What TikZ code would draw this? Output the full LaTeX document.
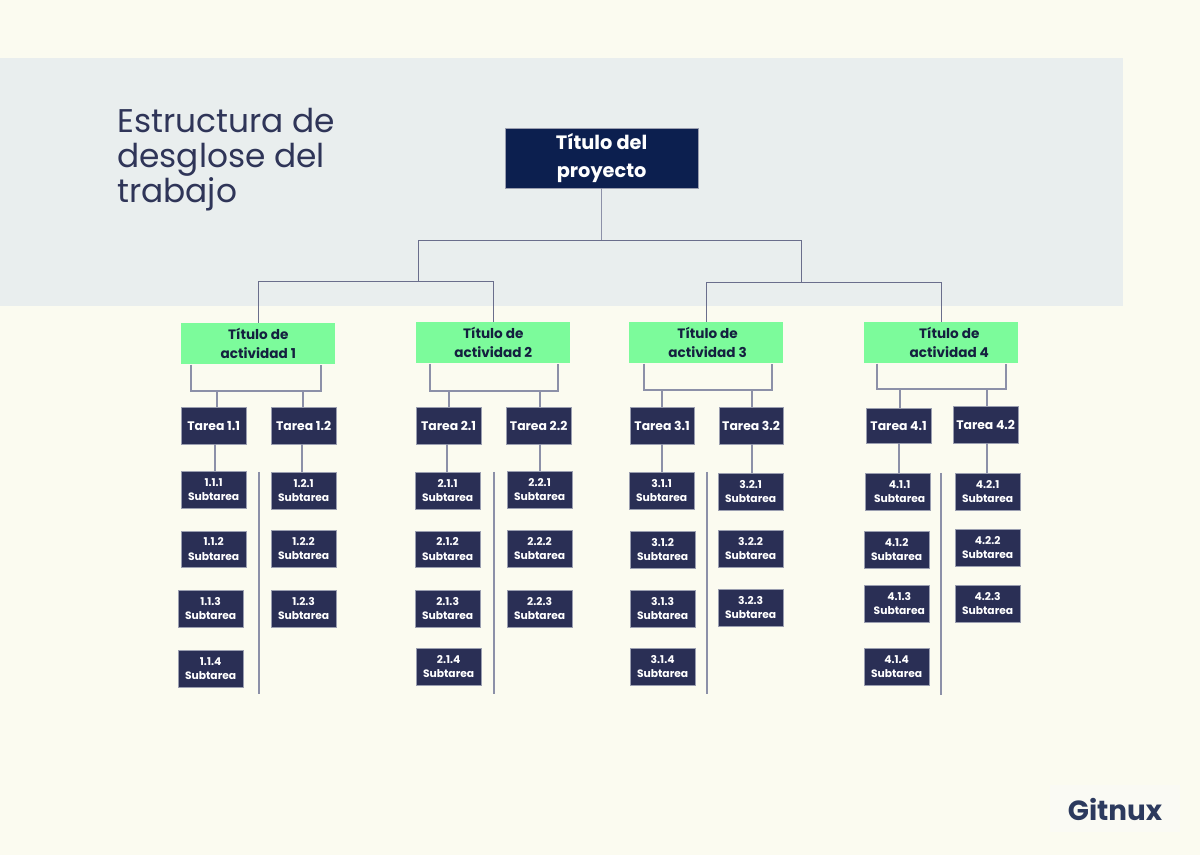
\documentclass[tikz,border=0pt]{standalone}
\usepackage{fontspec}
\setmainfont{Poppins}
\definecolor{bgc}{HTML}{FBFBF0}
\definecolor{bandc}{HTML}{E9EEEE}
\definecolor{rootc}{HTML}{0C1F4F}
\definecolor{actc}{HTML}{7CFB9B}
\definecolor{taskc}{HTML}{2A2F55}
\definecolor{linec}{HTML}{6A6E8C}
\definecolor{stemc}{HTML}{8C90A8}
\definecolor{edgec}{HTML}{9A9EB0}
\definecolor{titlec}{HTML}{2F3558}
\definecolor{inkc}{HTML}{14203F}
\definecolor{logoc}{HTML}{2C3A5E}
\definecolor{logobg}{HTML}{FAFAF4}
\tikzset{
  x=0.75pt,y=-0.75pt,
  boxbase/.style={anchor=north west,inner sep=0pt,align=center},
  rootbox/.style={boxbase,fill=rootc,draw=edgec,line width=0.2pt,text=white,font=\bfseries\fontsize{14.5}{21}\selectfont},
  actbox/.style={boxbase,fill=actc,text=inkc,font=\bfseries\fontsize{10.2}{14.4}\selectfont},
  taskbox/.style={boxbase,fill=taskc,draw=edgec,line width=0.2pt,text=white,font=\bfseries\fontsize{9.3}{12}\selectfont},
  subbox/.style={boxbase,fill=taskc,draw=edgec,line width=0.2pt,text=white,font=\bfseries\fontsize{8.05}{11}\selectfont},
  conn/.style={draw=linec,line width=0.65pt},
  stem/.style={draw=stemc,line width=1.05pt},
}
\newcommand{\bx}[7]{\node[#1,minimum width={(#4-#2)*0.75pt},minimum height={(#5-#3)*0.75pt}] (#6) at (#2,#3) {#7};}
\newcommand{\st}[6]{\bx{subbox}{#1}{#2}{#3}{#4}{#5}{#6\\Subtarea}}
\newcommand{\sts}[7]{\bx{subbox}{#1}{#2}{#3}{#4}{#5}{\hspace*{#7}#6\\\hspace*{#7}Subtarea}}
\begin{document}
\begin{tikzpicture}
\useasboundingbox (0,0) rectangle (1200,855);
\fill[bgc] (0,0) rectangle (1200,855);
\fill[bandc] (0,58) rectangle (1123,306);
\fill[logobg] (1050,785) rectangle (1180,832);
\node[anchor=north west,inner sep=0pt,align=left,text=titlec,font=\fontsize{24.6}{26.6}\selectfont] (title) at (117,107.5) {Estructura de\\desglose del\\trabajo};
% boxes
\bx{rootbox}{505}{128}{698}{188}{root}{Título del\\proyecto}
\bx{actbox}{181}{323}{335}{364}{a1}{Título de\\actividad 1}
\bx{actbox}{416}{322}{570}{363}{a2}{Título de\\actividad 2}
\bx{actbox}{629}{322}{783}{363}{a3}{\hspace*{2pt}Título de\\\hspace*{2pt}actividad 3}
\bx{actbox}{864}{322}{1018}{363}{a4}{\hspace*{12pt}Título de\\\hspace*{12pt}actividad 4}
\bx{taskbox}{181}{407}{246}{444}{t11}{Tarea 1.1}
\bx{taskbox}{271}{407}{336}{444}{t12}{Tarea 1.2}
\bx{taskbox}{416}{407}{481}{444}{t21}{Tarea 2.1}
\bx{taskbox}{506}{407}{571}{444}{t22}{Tarea 2.2}
\bx{taskbox}{630}{407}{694}{444}{t31}{Tarea 3.1}
\bx{taskbox}{719}{407}{783}{444}{t32}{Tarea 3.2}
\bx{taskbox}{866}{408}{931}{443}{t41}{Tarea 4.1}
\bx{taskbox}{953}{406}{1018}{443}{t42}{Tarea 4.2}
\st{181}{471}{246}{508}{s111}{1.1.1}
\st{181}{531}{246}{567}{s112}{1.1.2}
\st{178}{590}{243}{627}{s113}{1.1.3}
\st{178}{650}{243}{687}{s114}{1.1.4}
\st{271}{472}{336}{509}{s121}{1.2.1}
\st{271}{530}{336}{567}{s122}{1.2.2}
\st{271}{590}{336}{627}{s123}{1.2.3}
\st{415}{472}{480}{509}{s211}{2.1.1}
\st{415}{531}{480}{567}{s212}{2.1.2}
\st{415}{590}{480}{627}{s213}{2.1.3}
\st{416}{648}{481}{685}{s214}{2.1.4}
\st{507}{471}{572}{508}{s221}{2.2.1}
\st{507}{530}{572}{567}{s222}{2.2.2}
\st{507}{590}{572}{627}{s223}{2.2.3}
\st{629}{472}{694}{509}{s311}{3.1.1}
\st{630}{531}{695}{568}{s312}{3.1.2}
\st{630}{590}{695}{627}{s313}{3.1.3}
\st{630}{648}{695}{685}{s314}{3.1.4}
\st{718}{473}{783}{510}{s321}{3.2.1}
\st{718}{530}{783}{567}{s322}{3.2.2}
\st{718}{589}{783}{626}{s323}{3.2.3}
\sts{865}{473}{930}{510}{s411}{4.1.1}{3pt}
\st{864}{531}{929}{568}{s412}{4.1.2}
\sts{864}{585}{929}{622}{s413}{4.1.3}{4pt}
\st{864}{648}{929}{685}{s414}{4.1.4}
\st{955}{473}{1020}{510}{s421}{4.2.1}
\st{955}{529}{1020}{566}{s422}{4.2.2}
\st{955}{585}{1020}{622}{s423}{4.2.3}
% top tree
\coordinate (busL) at (418,240);
\coordinate (busR) at (801,240);
\coordinate (busM) at (602,240);
\draw[stem] (root.south) -- (root.south |- busM);
\draw[conn] (busL) -- (busR);
\draw[conn] (a1.north -| 258,0) |- (418,281) -- (busL);
\draw[conn] (a2.north -| 493,0) |- (418,281);
\draw[conn] (a3.north -| 706,0) |- (801,282) -- (busR);
\draw[conn] (a4.north -| 941,0) |- (801,282);
% activity brackets
\draw[stem] (a1.south -| 191,0) |- (321,391) -- (a1.south -| 321,0);
\draw[stem] (a2.south -| 430,0) |- (558,391) -- (a2.south -| 558,0);
\draw[stem] (a3.south -| 644,0) |- (772,390) -- (a3.south -| 772,0);
\draw[stem] (a4.south -| 877,0) |- (1006,389) -- (a4.south -| 1006,0);
\draw[stem] (t11.north -| 217,0) -- (217,391);
\draw[stem] (t12.north -| 303,0) -- (303,391);
\draw[stem] (t21.north -| 449,0) -- (449,391);
\draw[stem] (t22.north -| 540,0) -- (540,391);
\draw[stem] (t31.north -| 662,0) -- (662,390);
\draw[stem] (t32.north -| 752,0) -- (752,390);
\draw[stem] (t41.north -| 900,0) -- (900,389);
\draw[stem] (t42.north -| 987,0) -- (987,389);
% task to first subtask
\draw[stem] (t11.south -| 215,0) -- (s111.north -| 215,0);
\draw[stem] (t12.south -| 302,0) -- (s121.north -| 302,0);
\draw[stem] (t21.south -| 447,0) -- (s211.north -| 447,0);
\draw[stem] (t22.south -| 540,0) -- (s221.north -| 540,0);
\draw[stem] (t31.south -| 662,0) -- (s311.north -| 662,0);
\draw[stem] (t32.south -| 752,0) -- (s321.north -| 752,0);
\draw[stem] (t41.south -| 899,0) -- (s411.north -| 899,0);
\draw[stem] (t42.south -| 987,0) -- (s421.north -| 987,0);
% separators
\coordinate (v1a) at (259,472); \coordinate (v1b) at (259,694);
\coordinate (v2a) at (494,472); \coordinate (v2b) at (494,694);
\coordinate (v3a) at (707,472); \coordinate (v3b) at (707,694);
\coordinate (v4a) at (941,473); \coordinate (v4b) at (941,695);
\draw[stem] (v1a) -- (v1b);
\draw[stem] (v2a) -- (v2b);
\draw[stem] (v3a) -- (v3b);
\draw[stem] (v4a) -- (v4b);
% logo
\node[anchor=center,inner sep=0pt,text=logoc,font=\bfseries\fontsize{20.8}{24}\selectfont] (logo) at (1115,809) {Gitnux};
\end{tikzpicture}
\end{document}
